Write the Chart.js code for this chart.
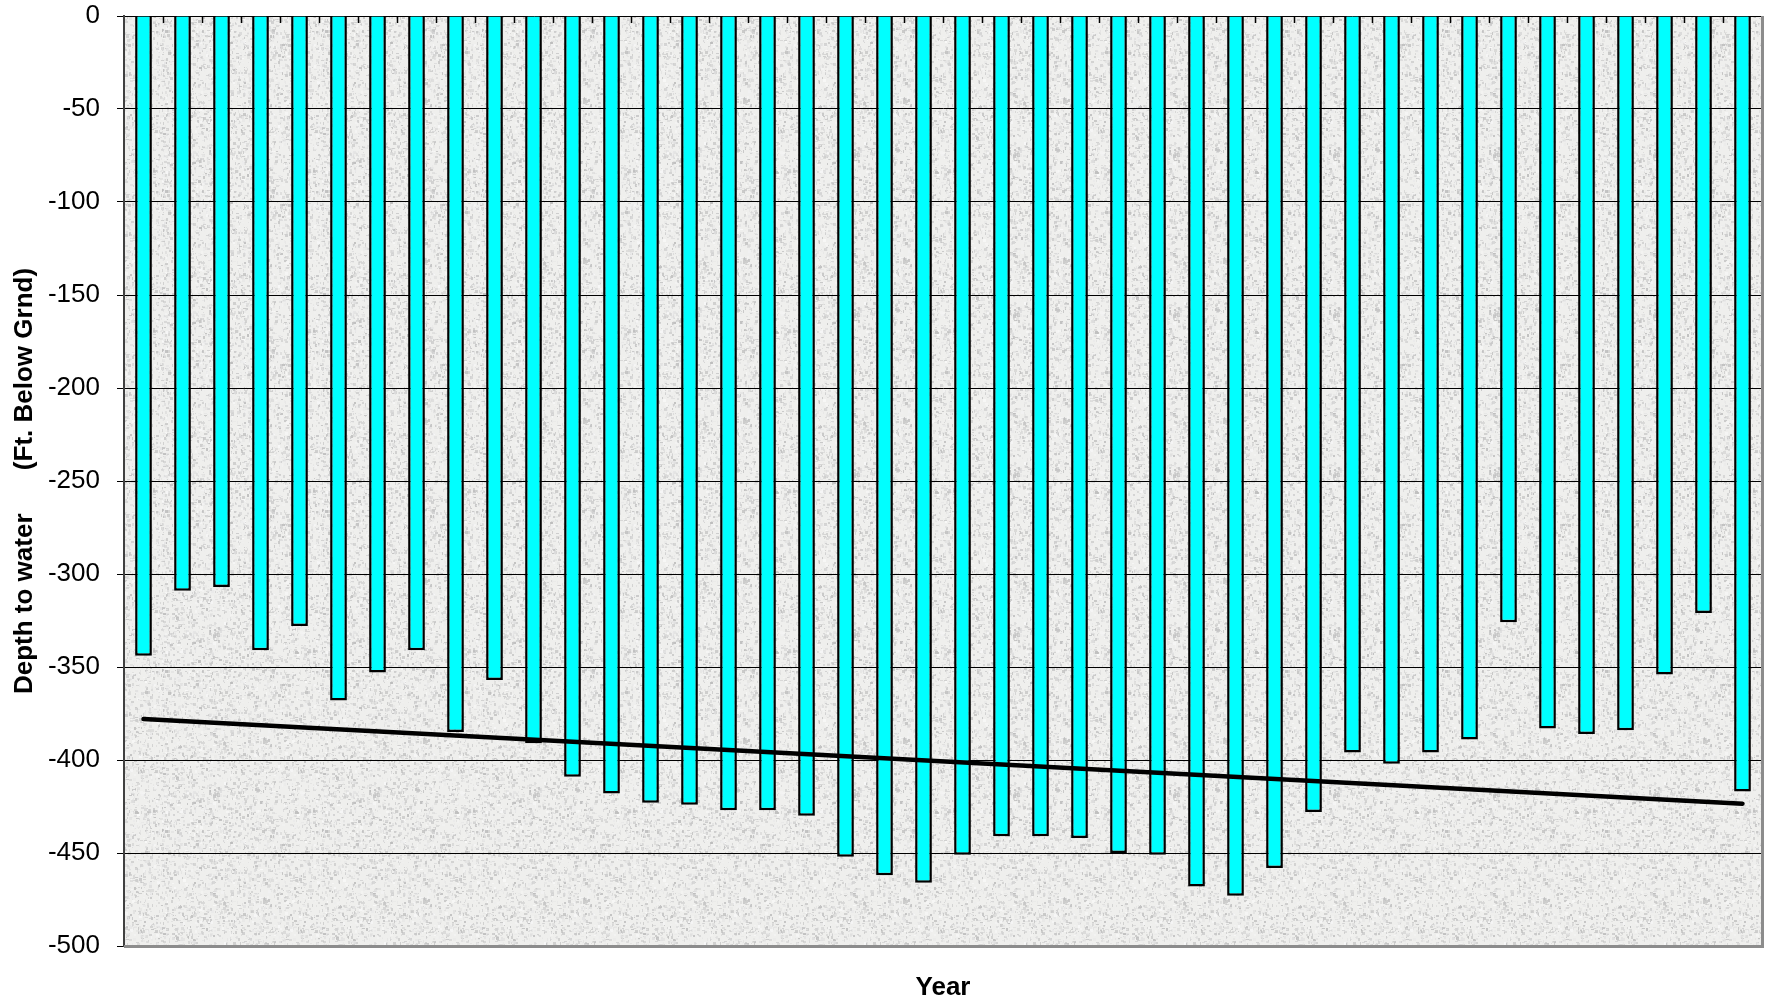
<!DOCTYPE html>
<html>
<head>
<meta charset="utf-8">
<title>Depth to water</title>
<script src="https://cdn.jsdelivr.net/npm/chart.js@4/dist/chart.umd.min.js"></script>
<style>
  html, body { margin: 0; padding: 0; background: #ffffff; }
  #wrap { width: 1767px; height: 1001px; }
</style>
</head>
<body>
<div id="wrap"><canvas id="depth-chart" width="1767" height="1001"></canvas></div>
<script>
// one bar per year, years are not labelled on the original
const years = [
  '1', '2', '3', '4', '5', '6', '7', '8', '9', '10', '11', '12', '13', '14',
  '15', '16', '17', '18', '19', '20', '21', '22', '23', '24', '25', '26', '27', '28',
  '29', '30', '31', '32', '33', '34', '35', '36', '37', '38', '39', '40', '41', '42',
];

// depth to water, ft below ground
const depths = [
  -344, -309, -307, -341, -328, -368, -353, -341, -385, -357, -391, -409, -418, -423,
  -424, -427, -427, -430, -452, -462, -466, -451, -441, -441, -442, -450, -451, -468,
  -473, -458, -428, -396, -402, -396, -389, -326, -383, -386, -384, -354, -321, -417,
];

// linear trend, end values
const trendStart = -378;
const trendEnd = -423.5;
const trend = years.map((y, i) => (i === 0 ? trendStart : i === years.length - 1 ? trendEnd : null));

const yTicks = { min: -500, max: 0, step: 50 };

const FONT = "'Liberation Sans', Arial, sans-serif";

// grey granite-ish fill for the plot area
function makeTexture() {
  const c = document.createElement('canvas');
  c.width = 160;
  c.height = 160;
  const g = c.getContext('2d');
  g.fillStyle = '#efefed';
  g.fillRect(0, 0, 160, 160);
  let seed = 12345;
  const rnd = () => {
    seed = (seed * 1103515245 + 12345) & 0x7fffffff;
    return seed / 0x7fffffff;
  };
  for (let i = 0; i < 3600; i++) {
    const v = Math.round(185 + rnd() * 65);
    g.fillStyle = `rgba(${v}, ${v}, ${v}, ${0.35 + rnd() * 0.55})`;
    const w = 1 + Math.floor(rnd() * 3);
    const h = 1 + Math.floor(rnd() * 3);
    g.fillRect(Math.floor(rnd() * 160), Math.floor(rnd() * 160), w, h);
  }
  return c;
}

const texture = makeTexture();

const plotFrame = {
  id: 'plotFrame',
  beforeDraw(chart) {
    const { ctx, chartArea: a } = chart;
    ctx.save();
    ctx.fillStyle = ctx.createPattern(texture, 'repeat');
    ctx.fillRect(a.left, a.top, a.right - a.left, a.bottom - a.top);
    ctx.restore();
  },
  afterDatasetsDraw(chart) {
    const { ctx, chartArea: a } = chart;
    const x = chart.scales.x;
    ctx.save();
    // short category ticks hanging from the zero line
    ctx.strokeStyle = '#000000';
    ctx.lineWidth = 1.5;
    ctx.beginPath();
    for (let i = 1; i < years.length; i++) {
      const px = Math.round((x.getPixelForTick(i - 1) + x.getPixelForTick(i)) / 2) + 0.5;
      ctx.moveTo(px, a.top);
      ctx.lineTo(px, a.top + 7);
    }
    ctx.stroke();
    // grey right and bottom edges
    ctx.strokeStyle = '#8c8c8c';
    ctx.lineWidth = 3;
    ctx.beginPath();
    ctx.moveTo(a.left, a.bottom + 0.5);
    ctx.lineTo(a.right + 0.5, a.bottom + 0.5);
    ctx.lineTo(a.right + 0.5, a.top);
    ctx.stroke();
    ctx.restore();
  },
};

new Chart(document.getElementById('depth-chart'), {
  data: {
    labels: years,
    datasets: [
      {
        type: 'line',
        data: trend,
        spanGaps: true,
        borderColor: '#000000',
        borderWidth: 4.5,
        borderCapStyle: 'round',
        pointRadius: 0,
        order: 0,
      },
      {
        type: 'bar',
        data: depths,
        backgroundColor: '#00ffff',
        borderColor: '#000000',
        borderWidth: 2.5,
        borderSkipped: 'start',
        categoryPercentage: 1,
        barPercentage: 0.43,
        order: 1,
      },
    ],
  },
  options: {
    responsive: false,
    animation: false,
    devicePixelRatio: 1,
    layout: {
      padding: { left: 0, right: 5, top: 16, bottom: 0 },
    },
    scales: {
      x: {
        offset: true,
        ticks: { display: false },
        grid: { display: false },
        border: { display: false },
        title: {
          display: true,
          text: 'Year',
          color: '#000000',
          font: { family: FONT, size: 26, weight: 'bold', lineHeight: 1 },
          padding: { top: 0, bottom: 0 },
        },
        afterFit(scale) {
          scale.height = 55;
        },
      },
      y: {
        min: yTicks.min,
        max: yTicks.max,
        ticks: {
          stepSize: yTicks.step,
          color: '#000000',
          padding: 17,
          font: { family: FONT, size: 26 },
        },
        grid: {
          color: '#000000',
          lineWidth: 1,
          tickLength: 7,
        },
        border: { display: true, color: '#404040', width: 2 },
        title: {
          display: true,
          text: 'Depth to water      (Ft. Below Grnd)',
          color: '#000000',
          font: { family: FONT, size: 26, weight: 'bold', lineHeight: 1.2 },
          padding: { top: 9, bottom: 0 },
        },
        afterFit(scale) {
          scale.width = 124;
          scale.paddingTop = 0;
          scale.paddingBottom = 0;
        },
      },
    },
    plugins: {
      legend: { display: false },
      tooltip: { enabled: false },
    },
  },
  plugins: [plotFrame],
});
</script>
</body>
</html>
